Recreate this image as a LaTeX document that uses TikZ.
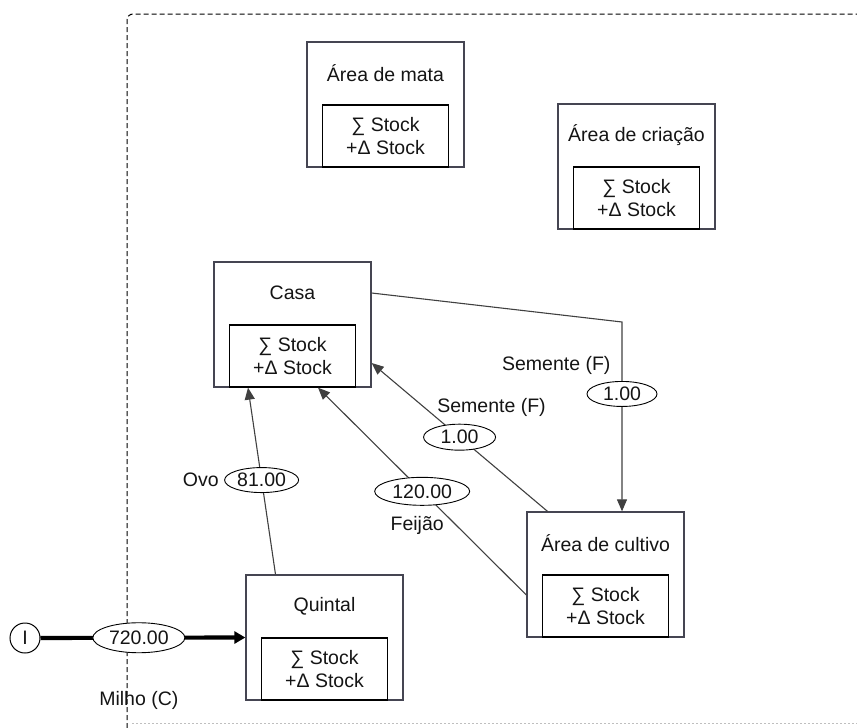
\documentclass[tikz,border=0pt]{standalone}
\usepackage{fontspec}
\setmainfont{Liberation Sans}
\usetikzlibrary{arrows.meta,shapes.geometric,calc}
\definecolor{boxgray}{HTML}{454552}
\definecolor{linegray}{HTML}{404040}
\definecolor{txt}{HTML}{141414}
\tikzset{
  x=1pt,y=-1pt,
  every node/.style={font=\fontsize{19.5}{23}\selectfont,text=txt},
  outerbox/.style={draw=boxgray,line width=1.3pt,minimum width=157pt,minimum height=125pt,inner sep=0pt},
  innerbox/.style={draw=black,line width=1.2pt,minimum width=126pt,minimum height=62pt,inner sep=0pt,align=center},
  flowlabel/.style={draw=black,line width=0.9pt,ellipse,fill=white,inner sep=0pt},
  flow/.style={draw=linegray,line width=1.1pt,-{Triangle[length=12pt,width=10pt]}},
  thickflow/.style={draw=black,line width=4.2pt,-{Triangle[length=11pt,width=12pt]}},
  srcnode/.style={draw=black,line width=1pt,circle,minimum size=30pt,inner sep=0pt},
  frame/.style={draw=black,line width=1pt,dash pattern=on 5pt off 3pt},
}
\newcommand\areabox[4]{%
  \node[outerbox] (#1) at (#2+78.5,#3+62.5) {};
  \node (#1-t) at (#2+78.5,#3+31) {#4};
  \node[innerbox] (#1-s) at (#2+78.5,#3+94) {∑ Stock\\+Δ Stock};
}
\begin{document}
\begin{tikzpicture}
\useasboundingbox (0,0) rectangle (857,728);
% frame
\draw[frame,rounded corners=6pt] (127,728) -- (127,14) -- (857,14);
\draw[draw=black!25,line width=0.6pt,dash pattern=on 1.5pt off 2.5pt] (132,723) -- (857,723);

% boxes
\areabox{mata}{307}{42}{Área de mata}
\areabox{criacao}{558}{104}{Área de criação}
\areabox{casa}{214}{262}{Casa}
\areabox{cultivo}{527}{512}{Área de cultivo}
\areabox{quintal}{246}{575}{Quintal}

% source
\node[srcnode] (src) at (25,638) {I};
\draw[thickflow] (src) -- node[flowlabel,pos=0.48,minimum width=92pt,minimum height=30pt] (e1) {720.00} (quintal.west);
\node (milho) at ($(e1)+(0,63)$) {Milho (C)};

% quintal -> casa
\draw[flow] ([xshift=-49pt]quintal.north) -- node[flowlabel,pos=0.505,minimum width=74pt,minimum height=25pt] (e2) {81.00} ([xshift=-44.5pt]casa.south);
\node[anchor=east] (ovo) at ([xshift=-2pt]e2.west) {Ovo};

% cultivo -> casa (semente)
\draw[flow] ([xshift=-58pt]cultivo.north) -- node[flowlabel,pos=0.5,minimum width=72pt,minimum height=26pt] (e3) {1.00} ([yshift=-38.5pt]casa.east);
\node (sem1) at ($(e3)+(32,-30)$) {Semente (F)};

% cultivo -> casa (feijao)
\draw[flow] ([yshift=-20.5pt]cultivo.west) -- node[flowlabel,pos=0.5,minimum width=95pt,minimum height=28pt] (e4) {120.00} ([xshift=25.5pt]casa.south);
\node (feijao) at ($(e4)+(-5,34)$) {Feijão};

% casa -> cultivo
\coordinate (bend) at (622,322);
\draw[flow] ([yshift=31.5pt]casa.east) -- (bend) -- node[flowlabel,pos=0.38,minimum width=70pt,minimum height=25pt] (e5) {1.00} (bend |- cultivo.north);
\node[anchor=east] (sem2) at (614,365) {Semente (F)};
\end{tikzpicture}
\end{document}
